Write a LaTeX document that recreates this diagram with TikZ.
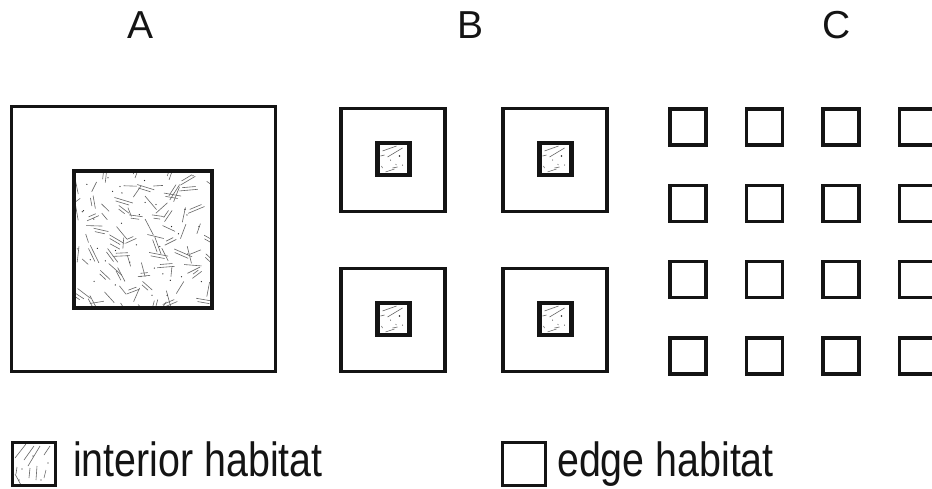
\documentclass[tikz,border=0pt]{standalone}
\usepackage{fontspec}
\setmainfont{Liberation Sans}
\usepackage{graphicx}
\tikzset{
  edgebox/.style={draw=black!92, line width=3.4pt},
  corebox/.style={draw=black!92, line width=3.8pt},
  cellbox/.style={draw=black!92, line width=3.6pt},
  straw/.style={draw=black!60, line width=0.6pt},
  speck/.style={fill=black!85},
  bigtitle/.style={font=\fontsize{39}{44}\selectfont, anchor=base, inner sep=0pt, text=black!92},
  legtext/.style={font=\fontsize{48}{56}\selectfont, anchor=base west, inner sep=0pt, text=black!92}
}
\newcommand\hbtsmall[2]{%
  \begin{scope}[shift={(#1,#2)}]
    \draw[straw] (-11,-8) -- (3,-13);
    \draw[straw] (-6,-2) -- (9,-11);
    \draw[straw] (-13,-3) -- (-9,-4);
    \draw[straw] (-8,13) -- (1,10);
    \draw[straw] (-1,9) -- (4,8);
    \draw[straw] (-12,7) -- (-11,9);
    \draw[straw] (2,5) -- (3,6);
    \fill[speck] (6,-3) circle (0.9);
    \fill[speck] (-3,1) circle (0.5);
    \fill[speck] (9,6) circle (0.5);
  \end{scope}}
\begin{document}
\begin{tikzpicture}[x=1pt,y=-1pt]
\useasboundingbox (0,0) rectangle (932,488);
\fill[white] (0,0) rectangle (932,488);

% titles
\node[bigtitle] (tA) at (140.5,38) {A};
\node[bigtitle] (tB) at (470.5,38) {B};
\node[bigtitle] (tC) at (837,38) {C};

% ---------- A ----------
\pgfmathsetseed{23}
\begin{scope}
  \clip (73.75,170.75) rectangle (212.25,308.25);
  \foreach \gx in {0,...,6}{
    \foreach \gy in {0,...,6}{
      \pgfmathsetmacro\px{72+\gx*21+8*rand}
      \pgfmathsetmacro\py{169+\gy*21+8*rand}
      \pgfmathsetmacro\pa{180*rnd}
      \pgfmathsetmacro\pl{11+9*rnd}
      \pgfmathsetmacro\po{90+\pa}
      \draw[straw] (\px,\py) -- ++(\pa:\pl);
      \draw[straw] (\px,\py) ++(\po:3) ++(\pa:2) -- ++(\pa:\pl-5);
      \pgfmathsetmacro\qx{82+\gx*21+8*rand}
      \pgfmathsetmacro\qy{179+\gy*21+8*rand}
      \pgfmathsetmacro\qa{180*rnd}
      \pgfmathsetmacro\ql{8+10*rnd}
      \draw[straw] (\qx,\qy) -- ++(\qa:\ql);
      \fill[speck] (72+\gx*21+21*rnd,169+\gy*21+21*rnd) circle (0.65);
    }
  }
\end{scope}
\draw[edgebox] (11.5,106.5) rectangle (275.5,371.5);
\draw[corebox] (73.75,170.75) rectangle (212.25,308.25);

% ---------- B ----------
\foreach \cx/\cy in {393/160, 555/160, 393/320, 555/320}{
  \draw[edgebox] (\cx-52,\cy-51.5) rectangle (\cx+52,\cy+51.5);
  \hbtsmall{\cx+0.5}{\cy-1}
  \draw[corebox, line width=4.2pt] (\cx+0.5-16,\cy-1-16) rectangle (\cx+0.5+16,\cy-1+16);
}

% ---------- C ----------
\foreach \gx in {670,746.5,823,899.5}{
  \foreach \gy in {109,185.3,261.6,338}{
    \draw[cellbox] (\gx,\gy) rectangle (\gx+36,\gy+36);
  }
}

% ---------- legend ----------
\begin{scope}
  \clip (12.5,442.5) rectangle (55.5,485.5);
  \draw[straw] (26,444) -- (15,458);
  \draw[straw] (34,446) -- (24,460);
  \draw[straw] (40,446) -- (28,466);
  \draw[straw] (50,446) -- (44,455);
  \draw[straw] (17,467) -- (16,474);
  \draw[straw] (30,468) -- (29,478);
  \draw[straw] (37,466) -- (36,480);
  \draw[straw] (15,474) -- (21,485);
  \draw[straw] (46,470) -- (44,478);
  \fill[speck] (22,469) circle (0.7);
  \fill[speck] (48,463) circle (0.7);
  \fill[speck] (33,456) circle (0.6);
  \fill[speck] (41,480) circle (0.6);
  \fill[speck] (19,480) circle (0.6);
\end{scope}
\draw[edgebox] (12.5,442.5) rectangle (55.5,485.5);
\node[legtext] (lint) at (73,476) {\scalebox{0.82}[1]{interior habitat}};

\draw[edgebox] (502.5,442.5) rectangle (545.5,485.5);
\node[legtext] (ledge) at (557,476) {\scalebox{0.82}[1]{edge habitat}};
\end{tikzpicture}
\end{document}
